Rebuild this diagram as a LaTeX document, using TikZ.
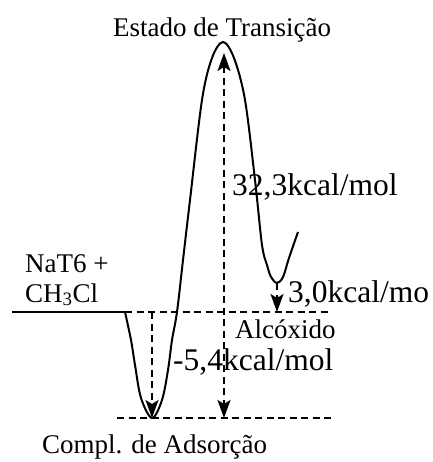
\documentclass[tikz,border=0pt]{standalone}
\usepackage{fontspec}
\setmainfont{Liberation Serif}
\usetikzlibrary{arrows.meta, positioning}
\colorlet{CurveLine}{black}
\colorlet{LevelLine}{black}

\begin{document}
\begin{tikzpicture}[
    x=1pt, y=-1pt,
    curve/.style={line width=2pt, draw=CurveLine},
    level/.style={line width=2pt, draw=LevelLine, dash pattern=on 7pt off 4.5pt},
    tip/.tip={Stealth[length=18pt, width=13pt, inset=4pt]},
    energy/.style={level, -tip},
    lbl/.style={font=\fontsize{27}{30}\selectfont, anchor=base west, inner sep=0pt},
    kcal/.style={font=\fontsize{31.5}{34}\selectfont, anchor=base west, inner sep=0pt}
]
\useasboundingbox (0,0) rectangle (432,462);

% ===================================================================
% Key points of the profile
% ===================================================================
\coordinate (start) at (12,312);
\coordinate (reac) at (125,312);
\coordinate (ads) at (152,418);
\coordinate (ts) at (223,42);
\coordinate (alc) at (277,283);
\coordinate (alcend) at (298,232);
\coordinate (reacend) at (332,312);
\coordinate (adsleft) at (117,418);
\coordinate (adsend) at (332,418);

% Levels
\draw[curve] (start) -- (reac);
\draw[level] (reac) -- (reacend);
\draw[level] (adsleft) -- (adsend);

% Energy profile
\draw[curve] plot[smooth, tension=0.55] coordinates {
    (reac) (131,340) (135,365) (141,398) (152,418) (162,400) (168,370)
    (172,340) (177,312) (183,260) (190,200) (202,100) (212,58) (ts)
    (234,58) (245,100) (255,180) (262,245) (267,265) (271,277) (alc)
    (283,277) (289,258) (alcend)};

% ===================================================================
% Energy arrows
% ===================================================================
\coordinate (adsarrtop) at (ads |- reac);
\draw[energy] (adsarrtop) -- (ads);

\coordinate (tsbot) at (224,418);
\coordinate (tstop) at (224,53);
\draw[level, tip-tip] (tstop) -- (tsbot);

\coordinate (alcbot) at (alc |- reac);
\draw[energy] (alc) -- (alcbot);

% ===================================================================
% Labels
% ===================================================================
\node[lbl, anchor=base] (tslbl) at (222,37) {Estado de Transição};
\node[lbl] (reaclbl) at (25,272) {NaT6 +};
\node[lbl] (reaclbl2) at (25,302) {CH\textsubscript{3}Cl};
\node[kcal] (barrier) at (232,195) {32,3kcal/mol};
\node[kcal] (alcdiff) at (288,302) {3,0kcal/mo};
\node[lbl] (alclbl) at (235,338) {Alcóxido};
\node[kcal] (adsdiff) at (173,370) {-5,4kcal/mol};
\node[lbl] (adslbl) at (42,453) {Compl. de Adsorção};

\end{tikzpicture}
\end{document}
